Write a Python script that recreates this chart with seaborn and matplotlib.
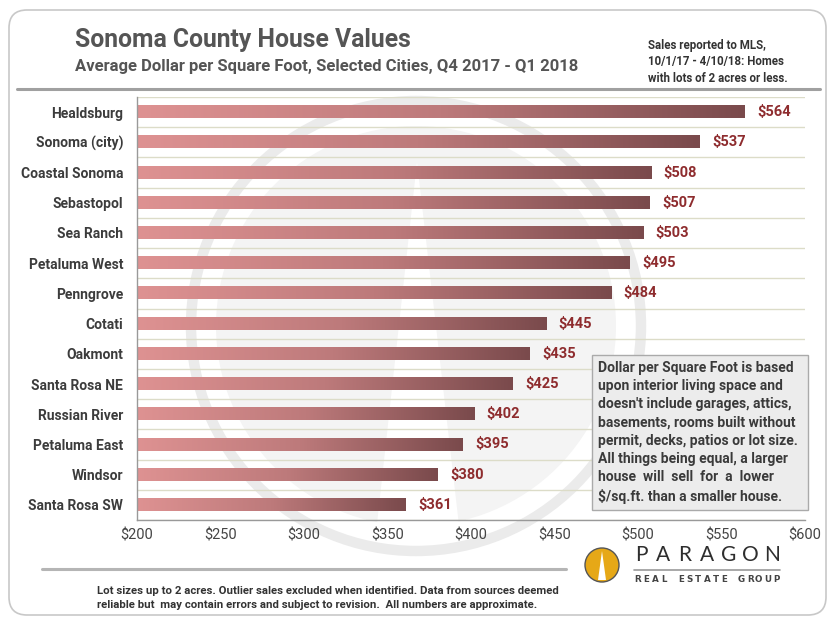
import numpy as np
import matplotlib
matplotlib.use("Agg")
import matplotlib.pyplot as plt
import seaborn as sns
from matplotlib.colors import LinearSegmentedColormap
from matplotlib.patches import Circle, Polygon, FancyBboxPatch, Rectangle

# Data
# ====
cities = ["Healdsburg", "Sonoma (city)", "Coastal Sonoma", "Sebastopol", "Sea Ranch",
          "Petaluma West", "Penngrove", "Cotati", "Oakmont", "Santa Rosa NE",
          "Russian River", "Petaluma East", "Windsor", "Santa Rosa SW"]
price_sqft = [564, 537, 508, 507, 503, 495, 484, 445, 435, 425, 402, 395, 380, 361]
x_ticks = [200, 250, 300, 350, 400, 450, 500, 550, 600]
x_labels = ["$" + str(t) for t in x_ticks]

title = "Sonoma County House Values"
subtitle = "Average Dollar per Square Foot, Selected Cities, Q4 2017 - Q1 2018"
side_note = "Sales reported to MLS,\n10/1/17 - 4/10/18: Homes\nwith lots of 2 acres or less."
box_note = ("Dollar per Square Foot is based\nupon interior living space and\n"
            "doesn't include garages, attics,\nbasements, rooms built without\n"
            "permit, decks, patios or lot size.\nAll things being equal, a larger\n"
            "house  will  sell  for  a  lower\n$/sq.ft. than a smaller house.")
footnote = ("Lot sizes up to 2 acres. Outlier sales excluded when identified. Data from sources deemed\n"
            "reliable but  may contain errors and subject to revision.  All numbers are approximate.")

sns.set_style("white")
plt.rcParams["font.family"] = ["Roboto", "DejaVu Sans"]

W, H = 835, 626
fig = plt.figure(figsize=(W / 100, H / 100), dpi=100)

# background layer (frame, watermark, rules, logo) in pixel coords
bg = fig.add_axes([0, 0, 1, 1], zorder=0)
bg.set_xlim(0, W)
bg.set_ylim(H, 0)
bg.axis("off")

bg.add_patch(FancyBboxPatch((9, 10), 817, 605, boxstyle="round,pad=0,rounding_size=18",
                            fc="white", ec="#c8c8c8", lw=1.2))
# watermark
bg.add_patch(Circle((416, 326), 200, fc="#f4f4f4", ec="none"))
bg.add_patch(Polygon([(417, 162), (373, 560), (463, 560)], closed=True, fc="white", ec="none"))
bg.add_patch(Circle((416, 326), 225, fill=False, ec="#ebebeb", lw=7.5))

bg.plot([17, 820], [89, 89], color="#a0a0a0", lw=2.2)
bg.plot([42, 566], [569, 569], color="#b5b5b5", lw=2.2)

bg.text(75, 40, title, fontsize=17.8, fontweight="bold", color="#555555", va="center")
bg.text(75, 66, subtitle, fontsize=12, fontweight="bold", color="#555555", va="center")
bg.text(648, 62, side_note, fontsize=8.3, fontweight="bold", color="#333333", va="center",
        linespacing=1.3)
bg.text(97, 598, footnote, fontsize=8.2, fontweight="bold", color="#333333", va="center",
        linespacing=1.45)

# Paragon logo
bg.add_patch(Circle((602, 565), 17, fc="#e6a817", ec="#555555", lw=1.0))
bg.add_patch(Polygon([(602, 551), (598, 580), (606, 580)], closed=True, fc="white", ec="none"))
for ch, xp in zip("PARAGON", np.linspace(641, 772, 7)):
    bg.text(xp, 555, ch, fontsize=15, color="#2e2e2e", ha="center", va="center",
            family=["Lato", "DejaVu Sans"])
bg.plot([634, 780], [569.5, 569.5], color="#999999", lw=1.2)
for ch, xp in zip("REAL ESTATE GROUP", np.linspace(638, 776, 17)):
    bg.text(xp, 579, ch, fontsize=6.3, color="#444444", ha="center", va="center",
            fontweight="bold", family=["DejaVu Sans"])

# main chart
ax = fig.add_axes([137 / W, 1 - 520 / H, 668 / W, 423 / H], zorder=1)
ax.set_facecolor("none")
sns.barplot(x=price_sqft, y=cities, orient="h", width=0.4, color="#b06868", ax=ax)

x_lo = x_ticks[0]
cmap = LinearSegmentedColormap.from_list("bar", ["#de9292", "#bd7a7b", "#7a4a4c"])
grad = np.linspace(0, 1, 256).reshape(1, -1)
for p in ax.patches:
    x0, y0, x1, y1 = p.get_bbox().extents
    ax.imshow(grad, cmap=cmap, extent=(max(x0, x_lo), x1, y0, y1), aspect="auto", zorder=2)
    p.set_facecolor("none")
    p.set_edgecolor("none")

ax.bar_label(ax.containers[0], labels=["$" + str(v) for v in price_sqft], padding=9,
             fontsize=10.5, fontweight="bold", color="#8e2c2e")

ax.set_xlim(200, 600)
ax.set_ylim(len(cities) - 0.5, -0.5)
ax.set_xticks(x_ticks)
ax.set_xticklabels(x_labels, fontsize=10.5, color="#444444")
ax.set_yticks(range(len(cities)))
ax.set_yticklabels(cities, fontsize=10, fontweight="bold", color="#3c3c3c")
ax.set_yticks(np.arange(-0.5, len(cities), 1), minor=True)
ax.tick_params(axis="y", which="major", length=0, pad=10)
ax.tick_params(axis="y", which="minor", length=6, direction="out", color="#999999")
ax.tick_params(axis="x", length=5, direction="in", color="#999999", pad=6)
ax.grid(False)
ax.grid(axis="y", which="minor", color="#dcdcc8", lw=1.0)
ax.set_axisbelow(True)
ax.set_xlabel("")
ax.set_ylabel("")
for s in ["top", "right"]:
    ax.spines[s].set_visible(False)
for s in ["left", "bottom"]:
    ax.spines[s].set_color("#999999")
    ax.spines[s].set_linewidth(1.0)

# note box, placed in figure pixels
ax.add_patch(Rectangle((592, 355), 216, 155, transform=bg.transData, fc="#ececec",
                       ec="#aaaaaa", lw=1.0, zorder=5, clip_on=False))
ax.text(598, 361, box_note, transform=bg.transData, ha="left", va="top",
        fontsize=10, fontweight="bold", color="#3a3a3a", linespacing=1.38, zorder=6)

fig.savefig("out.png", dpi=100)
